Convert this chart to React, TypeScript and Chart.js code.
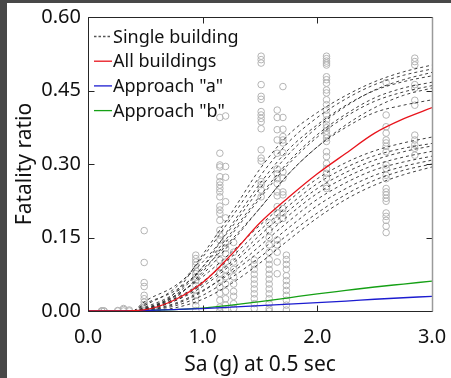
import React, { useEffect, useRef } from 'react';
import { Chart, registerables } from 'chart.js';

Chart.register(...registerables);

// ---- data ----
const singleSa = [0.4, 0.5, 0.75, 1.0, 1.25, 1.5, 1.75, 2.0, 2.25, 2.5, 2.75, 3.0];
const singleBuildings: number[][] = [
  [0, 0.004, 0.035, 0.115, 0.2, 0.29, 0.36, 0.405, 0.44, 0.468, 0.488, 0.502],
  [0, 0.012, 0.045, 0.11, 0.19, 0.275, 0.345, 0.395, 0.433, 0.462, 0.481, 0.494],
  [0, 0.02, 0.05, 0.1, 0.17, 0.25, 0.32, 0.375, 0.418, 0.451, 0.472, 0.487],
  [0, 0.003, 0.03, 0.09, 0.175, 0.26, 0.33, 0.38, 0.42, 0.45, 0.468, 0.48],
  [0, 0.008, 0.035, 0.09, 0.16, 0.235, 0.305, 0.36, 0.402, 0.435, 0.455, 0.467],
  [0, 0.002, 0.025, 0.08, 0.155, 0.23, 0.3, 0.355, 0.397, 0.428, 0.447, 0.46],
  [0, 0.015, 0.04, 0.085, 0.145, 0.21, 0.28, 0.335, 0.38, 0.415, 0.44, 0.455],
  [0, 0.005, 0.028, 0.075, 0.14, 0.21, 0.28, 0.335, 0.375, 0.405, 0.42, 0.431],
  [0, 0.006, 0.03, 0.07, 0.12, 0.175, 0.225, 0.27, 0.303, 0.327, 0.343, 0.355],
  [0, 0.004, 0.024, 0.06, 0.11, 0.165, 0.215, 0.26, 0.293, 0.317, 0.332, 0.342],
  [0, 0.002, 0.02, 0.055, 0.1, 0.155, 0.205, 0.25, 0.283, 0.308, 0.325, 0.337],
  [0, 0.003, 0.02, 0.05, 0.095, 0.145, 0.195, 0.24, 0.273, 0.298, 0.314, 0.326],
  [0, 0.001, 0.013, 0.04, 0.083, 0.133, 0.183, 0.228, 0.262, 0.288, 0.304, 0.316],
  [0, 0.002, 0.015, 0.042, 0.078, 0.122, 0.17, 0.215, 0.25, 0.277, 0.295, 0.308],
  [0, 0.001, 0.01, 0.032, 0.068, 0.11, 0.157, 0.2, 0.238, 0.267, 0.287, 0.3],
  [0, 0, 0.006, 0.024, 0.056, 0.098, 0.145, 0.19, 0.228, 0.257, 0.278, 0.294],
];

const curveSa = [0, 0.25, 0.5, 0.75, 1.0, 1.25, 1.5, 1.75, 2.0, 2.25, 2.5, 2.75, 3.0];
const allBuildings = [0, 0, 0.003, 0.022, 0.058, 0.115, 0.18, 0.232, 0.28, 0.322, 0.363, 0.392, 0.415];
const approachA = [0, 0, 0.001, 0.003, 0.005, 0.008, 0.011, 0.014, 0.017, 0.02, 0.024, 0.027, 0.03];
const approachB = [0, 0, 0.001, 0.003, 0.006, 0.012, 0.019, 0.027, 0.035, 0.042, 0.049, 0.055, 0.061];

const obsSa = [0.12, 0.14, 0.26, 0.31, 0.36, 0.49, 0.58, 0.94, 1.15, 1.2, 1.27, 1.45, 1.51, 1.58, 1.65, 1.7, 1.73, 2.08, 2.6, 2.85];
const obsRatios: number[][] = [
  [0, 0, 0],
  [0, 0],
  [0.001, 0],
  [0.003, 0.005, 0],
  [0.002, 0],
  [0.164, 0.099, 0.058, 0.05, 0.032, 0.025, 0.018, 0.012, 0.008, 0.004, 0.001],
  [0, 0.002],
  [0.114, 0.107, 0.1, 0.093, 0.083, 0.076, 0.069, 0.062, 0.052, 0.042, 0.032, 0.021, 0.011, 0.001],
  [0.395, 0.322, 0.298, 0.294, 0.274, 0.264, 0.257, 0.25, 0.243, 0.233, 0.214, 0.206, 0.199, 0.185, 0.165, 0.155, 0.145, 0.118, 0.104, 0.09, 0.077, 0.063, 0.049, 0.036, 0.022, 0.008, 0],
  [0.398, 0.295, 0.273, 0.223, 0.19, 0.138, 0.128, 0.117, 0.1, 0.085, 0.07, 0.055, 0.04, 0.025, 0.012, 0.002],
  [0.14, 0.12, 0.1, 0.085, 0.07, 0.055, 0.04, 0.03, 0.015, 0.005],
  [0.104, 0.095, 0.085, 0.075, 0.065, 0.055, 0.045, 0.035, 0.025, 0.015, 0.005],
  [0.52, 0.513, 0.506, 0.462, 0.438, 0.432, 0.407, 0.4, 0.393, 0.386, 0.372, 0.329, 0.312, 0.306, 0.264, 0.258, 0.247, 0.233],
  [0.18, 0.165, 0.15, 0.135, 0.12, 0.105, 0.095, 0.085, 0.075, 0.065, 0.055, 0.045, 0.035, 0.025, 0.015, 0.005, 0],
  [0.41, 0.395, 0.37, 0.349, 0.322, 0.29, 0.28, 0.27, 0.26, 0.243, 0.235, 0.213, 0.2, 0.185, 0.145, 0.135, 0.12, 0.1, 0.076],
  [0.458, 0.395, 0.371, 0.356, 0.349, 0.343, 0.323, 0.284, 0.271, 0.243, 0.237, 0.209, 0.2, 0.189],
  [0.114, 0.105, 0.095, 0.085, 0.072, 0.062, 0.052, 0.042, 0.032, 0.022, 0.012, 0.002],
  [0.52, 0.515, 0.51, 0.506, 0.502, 0.478, 0.472, 0.465, 0.451, 0.445, 0.431, 0.421, 0.41, 0.4, 0.39, 0.38, 0.374, 0.367, 0.36, 0.353, 0.346, 0.325, 0.315, 0.301, 0.291, 0.281, 0.271, 0.254, 0.25],
  [0.466, 0.4, 0.376, 0.363, 0.349, 0.343, 0.336, 0.325, 0.298, 0.291, 0.277, 0.27, 0.25, 0.243, 0.237, 0.23, 0.224, 0.2, 0.193, 0.185, 0.173, 0.16],
  [0.516, 0.509, 0.502, 0.462, 0.455, 0.43, 0.42, 0.359, 0.349, 0.339, 0.332, 0.318],
];

const legendLabels = ['Single building', 'All buildings', 'Approach "a"', 'Approach "b"'];
const xTitle = 'Sa (g) at 0.5 sec';
const yTitle = 'Fatality ratio';

const RED = '#e8141c';
const BLUE = '#1c1cd0';
const GREEN = '#15a015';
const DASH = '#2a2a2a';
const AXIS = '#262626';
const FONT = "'Noto Sans', sans-serif";

const boxPlugin = {
  id: 'boxTicks',
  afterDatasetsDraw(chart: any) {
    const { ctx, chartArea, scales } = chart;
    const { left, right, top, bottom } = chartArea;
    const xs = scales.x;
    const ys = scales.y;
    ctx.save();
    ctx.lineWidth = 1;
    ctx.strokeStyle = AXIS;
    const L = Math.round(left) + 0.5;
    const R = Math.round(right) + 0.5;
    const T = Math.round(top) + 0.5;
    const B = Math.round(bottom) + 0.5;
    ctx.beginPath();
    ctx.moveTo(L, T); ctx.lineTo(R, T);
    ctx.moveTo(L, T); ctx.lineTo(L, B);
    ctx.moveTo(L, B); ctx.lineTo(R, B);
    const tl = 6;
    xs.ticks.forEach((t: any) => {
      const px = Math.round(xs.getPixelForValue(t.value)) + 0.5;
      ctx.moveTo(px, B); ctx.lineTo(px, B - tl);
      ctx.moveTo(px, T); ctx.lineTo(px, T + tl);
    });
    ys.ticks.forEach((t: any) => {
      const py = Math.round(ys.getPixelForValue(t.value)) + 0.5;
      ctx.moveTo(L, py); ctx.lineTo(L + tl, py);
      ctx.moveTo(R, py); ctx.lineTo(R - tl, py);
    });
    ctx.stroke();
    ctx.strokeStyle = '#9a9a9a';
    ctx.lineWidth = 1.5;
    ctx.beginPath();
    ctx.moveTo(R, T); ctx.lineTo(R, B);
    ctx.stroke();
    ctx.restore();
  },
  afterDraw(chart: any) {
    const { ctx, chartArea } = chart;
    const colors = ['#555555', RED, BLUE, GREEN];
    ctx.save();
    ctx.font = `18px ${FONT}`;
    ctx.textBaseline = 'middle';
    legendLabels.forEach((lab, i) => {
      const y = chartArea.top + 19.5 + i * 24.7;
      const x0 = chartArea.left + 6;
      ctx.beginPath();
      ctx.strokeStyle = colors[i];
      ctx.lineWidth = 1.3;
      ctx.setLineDash(i === 0 ? [2.5, 2] : []);
      ctx.moveTo(x0, y);
      ctx.lineTo(x0 + 18, y);
      ctx.stroke();
      ctx.setLineDash([]);
      ctx.fillStyle = '#111';
      ctx.fillText(lab, x0 + 19, y + 1);
    });
    ctx.restore();
  },
};

export default function App() {
  const ref = useRef<HTMLCanvasElement | null>(null);
  useEffect(() => {
    if (!ref.current) return;
    const datasets: any[] = [];
    const pts: { x: number; y: number }[] = [];
    obsSa.forEach((sa, i) => obsRatios[i].forEach((r) => pts.push({ x: sa, y: r })));
    datasets.push({
      type: 'scatter',
      label: 'Observed',
      data: pts,
      pointRadius: 3.3,
      pointBorderWidth: 1,
      pointBorderColor: '#b4b4b4',
      pointBackgroundColor: 'rgba(0,0,0,0)',
      showLine: false,
      order: 10,
    });
    singleBuildings.forEach((vals, k) => {
      datasets.push({
        type: 'line',
        label: 'Single building ' + (k + 1),
        data: singleSa.map((s, i) => ({ x: s, y: vals[i] })),
        borderColor: DASH,
        borderWidth: 0.9,
        borderDash: [3, 3],
        pointRadius: 0,
        cubicInterpolationMode: 'monotone',
        fill: false,
        order: 5,
      });
    });
    const solid = (label: string, vals: number[], color: string) => ({
      type: 'line',
      label,
      data: curveSa.map((s, i) => ({ x: s, y: vals[i] })),
      borderColor: color,
      borderWidth: 1.3,
      pointRadius: 0,
      cubicInterpolationMode: 'monotone',
      fill: false,
      order: 1,
    });
    datasets.push(solid('All buildings', allBuildings, RED));
    datasets.push(solid('Approach "a"', approachA, BLUE));
    datasets.push(solid('Approach "b"', approachB, GREEN));

    const chart = new Chart(ref.current, {
      type: 'scatter',
      data: { datasets },
      plugins: [boxPlugin],
      options: {
        responsive: false,
        animation: false,
        devicePixelRatio: 1,
        layout: { padding: { left: 0, right: 19, top: 17, bottom: 0 } },
        plugins: { legend: { display: false }, tooltip: { enabled: false } },
        scales: {
          x: {
            type: 'linear',
            min: 0,
            max: 3,
            grid: { display: false, drawTicks: false },
            border: { display: false },
            ticks: {
              stepSize: 1,
              padding: 14,
              color: '#111',
              font: { family: FONT, size: 20 },
              callback: (v: any) => Number(v).toFixed(1),
              maxRotation: 0,
            },
            title: {
              display: true,
              text: xTitle,
              color: '#111',
              font: { family: FONT, size: 21 },
              padding: { top: 0, bottom: 0 },
            },
            afterFit: (s: any) => { s.height = 67; s.paddingLeft = 0; s.paddingRight = 0; },
          },
          y: {
            type: 'linear',
            min: 0,
            max: 0.6,
            grid: { display: false, drawTicks: false },
            border: { display: false },
            ticks: {
              stepSize: 0.15,
              padding: 7,
              color: '#111',
              font: { family: FONT, size: 20 },
              callback: (v: any) => Number(v).toFixed(2),
            },
            title: {
              display: true,
              text: yTitle,
              color: '#111',
              font: { family: FONT, size: 21 },
              padding: { top: 12, bottom: 0 },
            },
            afterFit: (s: any) => { s.width = 88; s.paddingTop = 0; s.paddingBottom = 0; },
          },
        },
      } as any,
    } as any);
    return () => chart.destroy();
  }, []);

  return (
    <div style={{ position: 'fixed', left: 0, top: 0, width: 451, height: 378, background: '#fff', overflow: 'hidden' }}>
      <div style={{ position: 'absolute', left: 0, top: 0, width: 7, height: 378, background: '#484848' }} />
      <div style={{ position: 'absolute', left: 0, top: 0, width: 451, height: 3, background: '#484848' }} />
      <canvas ref={ref} width={451} height={378} style={{ position: 'absolute', left: 0, top: 0, width: 451, height: 378 }} />
    </div>
  );
}
